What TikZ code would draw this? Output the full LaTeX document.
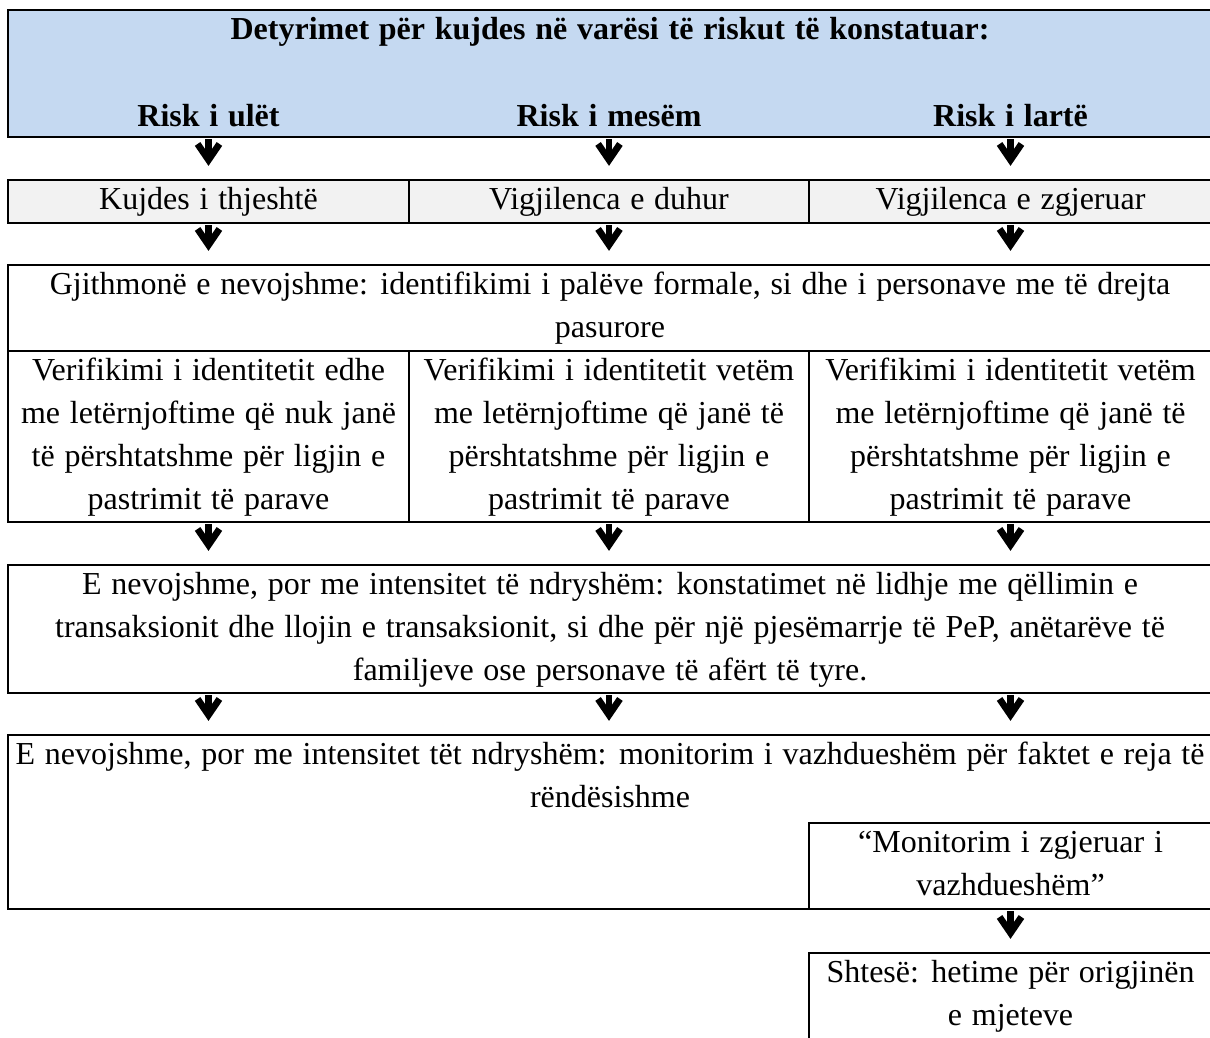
\documentclass[tikz,border=0pt]{standalone}
\usepackage{fontspec}
\setmainfont{Liberation Serif}[WordSpace=1.22]
\usetikzlibrary{arrows.meta,fit}
\definecolor{hdrblue}{RGB}{197,217,241}
\definecolor{cellgray}{RGB}{242,242,242}
\begin{document}
\begin{tikzpicture}[x=0.375pt,y=-0.375pt,
  box/.style={draw=black, line width=1pt, inner sep=0pt},
  txt/.style={font=\fontsize{12}{16.125}\selectfont, align=center, inner sep=0pt, anchor=north},
  hdrtxt/.style={txt, font=\fontsize{12}{16.125}\selectfont\bfseries},
  bigarr/.style={line width=2.4pt, shorten <=0.4pt, shorten >=4.8pt,
    -{Straight Barb[length=6pt,width=8.2pt,line width=2.5pt]}},
]
\useasboundingbox (0,0) rectangle (1210,1037);

% header
\node[box, fill=hdrblue, fit={(8,10) (1212,137)}] (hdr) {};
\node[hdrtxt] (title) at (hdr.north) {\strut Detyrimet për kujdes në varësi të riskut të konstatuar:};
\node[hdrtxt] (r1) at (208.5,96) {\strut Risk i ulët};
\node[hdrtxt] (r2) at (609,96) {\strut Risk i mesëm};
\node[hdrtxt] (r3) at (1010.5,96) {\strut Risk i lartë};

% row 2
\node[box, fill=cellgray, fit={(8,180) (409,223)}] (k1) {};
\node[box, fill=cellgray, fit={(409,180) (809,223)}] (k2) {};
\node[box, fill=cellgray, fit={(809,180) (1212,223)}] (k3) {};
\node[txt] (k1t) at (k1.north) {\strut Kujdes i thjeshtë};
\node[txt] (k2t) at (k2.north) {\strut Vigjilenca e duhur};
\node[txt] (k3t) at (k3.north) {\strut Vigjilenca e zgjeruar};

% row 3
\node[box, fit={(8,265) (1212,351)}] (g) {};
\node[txt] (gt) at (g.north) {\strut Gjithmonë e nevojshme: identifikimi i palëve formale, si dhe i personave me të drejta\\pasurore};

% verification
\node[box, fit={(8,351) (409,522)}] (v1) {};
\node[box, fit={(409,351) (809,522)}] (v2) {};
\node[box, fit={(809,351) (1212,522)}] (v3) {};
\node[txt] (v1t) at (v1.north) {\strut Verifikimi i identitetit edhe\\me letërnjoftime që nuk janë\\të përshtatshme për ligjin e\\pastrimit të parave};
\node[txt] (v2t) at (v2.north) {\strut Verifikimi i identitetit vetëm\\me letërnjoftime që janë të\\përshtatshme për ligjin e\\pastrimit të parave};
\node[txt] (v3t) at (v3.north) {\strut Verifikimi i identitetit vetëm\\me letërnjoftime që janë të\\përshtatshme për ligjin e\\pastrimit të parave};

% row 5
\node[box, fit={(8,565) (1212,693)}] (n5) {};
\node[txt] (n5t) at (n5.north) {\strut E nevojshme, por me intensitet të ndryshëm: konstatimet në lidhje me qëllimin e\\transaksionit dhe llojin e transaksionit, si dhe për një pjesëmarrje të PeP, anëtarëve të\\familjeve ose personave të afërt të tyre.};

% row 6
\node[box, fit={(8,735) (1212,909)}] (n6) {};
\node[txt] (n6t) at (n6.north) {\strut E nevojshme, por me intensitet tët ndryshëm: monitorim i vazhdueshëm për faktet e reja të\\rëndësishme};
\node[box, fit={(809,823) (1212,909)}] (m) {};
\node[txt] (mt) at (m.north) {\strut “Monitorim i zgjeruar i\\vazhdueshëm”};
\node[box, fit={(809,953) (1212,1045)}] (s) {};
\node[txt] (st) at (s.north) {\strut Shtesë: hetime për origjinën\\e mjeteve};

% arrows
\draw[bigarr] (hdr.south -| k1.north) -- (k1.north);
\draw[bigarr] (hdr.south -| k2.north) -- (k2.north);
\draw[bigarr] (hdr.south -| k3.north) -- (k3.north);
\draw[bigarr] (k1.south) -- (g.north -| k1.south);
\draw[bigarr] (k2.south) -- (g.north -| k2.south);
\draw[bigarr] (k3.south) -- (g.north -| k3.south);
\draw[bigarr] (v1.south) -- (n5.north -| v1.south);
\draw[bigarr] (v2.south) -- (n5.north -| v2.south);
\draw[bigarr] (v3.south) -- (n5.north -| v3.south);
\draw[bigarr] (n5.south -| v1.south) -- (n6.north -| v1.south);
\draw[bigarr] (n5.south -| v2.south) -- (n6.north -| v2.south);
\draw[bigarr] (n5.south -| v3.south) -- (n6.north -| v3.south);
\draw[bigarr] (m.south) -- (s.north);
\end{tikzpicture}
\end{document}
